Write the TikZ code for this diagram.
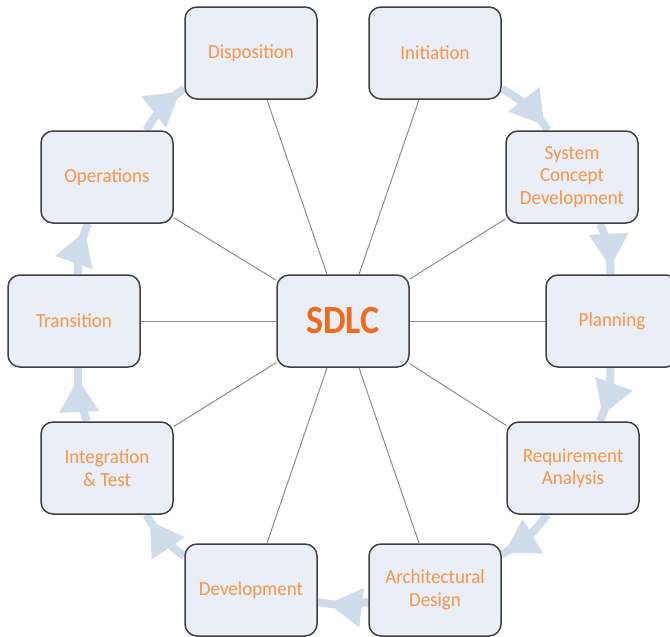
\documentclass[tikz,border=0pt]{standalone}
\usepackage{fontspec}
\setmainfont{Carlito}
\newfontfamily\labelfont[FakeStretch=0.95]{Carlito}
\newfontfamily\hubfont[FakeStretch=0.9]{Carlito}
\usetikzlibrary{decorations.markings,backgrounds}

\definecolor{boxfill}{HTML}{E9EEF7}
\definecolor{boxline}{HTML}{404040}
\definecolor{txt}{HTML}{F79646}
\definecolor{hub}{HTML}{EE6A1E}
\definecolor{spoke}{HTML}{8C8C8C}
\definecolor{flow}{HTML}{CFDCEC}

\tikzset{
  stage/.style={draw=boxline, line width=1.5pt, fill=boxfill, rounded corners=12pt,
    minimum width=132pt, minimum height=92pt, align=center, text=txt,
    font=\labelfont\fontsize{20}{22.5}\selectfont, inner sep=2pt},
  hubbox/.style={stage, text=hub, font=\hubfont\bfseries\fontsize{40}{44}\selectfont},
  spokeline/.style={draw=spoke, line width=1pt},
  cyclearrow/.style={draw=flow, line width=8pt, bend left=12,
    postaction={decorate},
    decoration={markings, mark=at position #1 with
      {\fill[flow] (3pt,0pt) -- (-30pt,20pt) -- (-30pt,-20pt) -- cycle;}}},
  cyclearrow/.default=0.78
}

\begin{document}
\begin{tikzpicture}[x=1pt,y=1pt]
\useasboundingbox (0,0) rectangle (670,-637);

\node[hubbox] (sdlc) at (343,-321) {SDLC};
\node[stage] (disp)  at (251,-53)  {Disposition};
\node[stage] (init)  at (435,-53)  {Initiation};
\node[stage] (scd)   at (572,-177) {System\\Concept\\Development};
\node[stage] (plan)  at (612,-321) {Planning};
\node[stage] (req)   at (573,-468) {Requirement\\Analysis};
\node[stage] (arch)  at (435,-590) {Architectural\\Design};
\node[stage] (dev)   at (251,-590) {Development};
\node[stage] (integ) at (107,-468) {Integration\\\& Test};
\node[stage] (trans) at (74,-321)  {Transition};
\node[stage] (ops)   at (107,-177) {Operations};

\begin{scope}[on background layer]
  \foreach \n in {disp,init,scd,plan,req,arch,dev,integ,trans,ops}
    \draw[spokeline] (sdlc) -- (\n);
  \draw[cyclearrow=0.85] (init.-28)  to (scd.117);
  \draw[cyclearrow=0.80] (scd.-59)   to (plan.92);
  \draw[cyclearrow=0.82] (plan.-92)  to (req.60);
  \draw[cyclearrow=0.90] (req.-119)  to (arch.28);
  \draw[cyclearrow=0.72] (arch.190)  to (dev.-10);
  \draw[cyclearrow=0.82] (dev.153)   to (integ.-50);
  \draw[cyclearrow=0.74] (integ.113) to (trans.-85);
  \draw[cyclearrow=0.78] (trans.85)  to (ops.-112);
  \draw[cyclearrow=0.85] (ops.50)    to (disp.-152);
\end{scope}
\end{tikzpicture}
\end{document}
